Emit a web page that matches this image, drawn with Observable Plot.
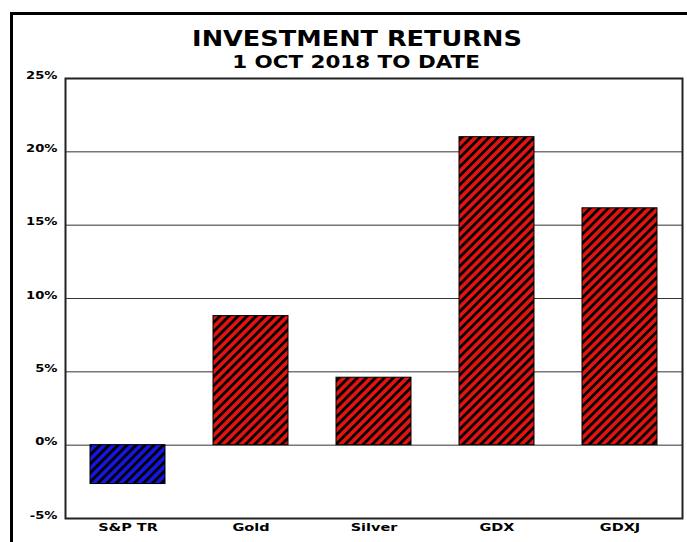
<!DOCTYPE html>
<html>
<head>
<meta charset="utf-8">
<script src="https://cdn.jsdelivr.net/npm/d3@7"></script>
<script src="https://cdn.jsdelivr.net/npm/@observablehq/plot@0.6"></script>
<style>
  html, body { margin: 0; padding: 0; background: #fff; overflow: hidden; }
  #wrap { position: relative; width: 687px; height: 542px; overflow: hidden; background: #fff; }
  #border { position: absolute; left: 10px; top: 12px; width: 677px; height: 530px; border-top: 3px solid #000; border-left: 3px solid #000; box-sizing: border-box; }
  .ttl { position: absolute; white-space: nowrap; line-height: 1; font-family: "DejaVu Sans", "Liberation Sans", Arial, sans-serif; font-weight: bold; color: #000; transform: translateX(-50%) scaleX(1.19); }
  #title { left: 357px; top: 27.8px; font-size: 21.5px; }
  #subtitle { left: 356px; top: 52.8px; font-size: 18px; }
  #chart { position: absolute; left: 0; top: 0; width: 687px; height: 542px; }
  #chart svg { max-width: none !important; }
</style>
</head>
<body>
<div id="wrap">
  <div id="chart"></div>
  <div id="border"></div>
  <div class="ttl" id="title">INVESTMENT RETURNS</div>
  <div class="ttl" id="subtitle">1 OCT 2018 TO DATE</div>
</div>
<script>
const categories = ["S&P TR", "Gold", "Silver", "GDX", "GDXJ"];
const returns = [-2.65, 8.8, 4.6, 21.0, 16.15];
const yTicks = [-5, 0, 5, 10, 15, 20, 25];

const data = categories.map((c, i) => ({cat: c, value: returns[i]}));

const chart = Plot.plot({
  width: 687,
  height: 542,
  marginTop: 78,
  marginLeft: 65,
  marginRight: 5,
  marginBottom: 24,
  x: {domain: categories, paddingInner: 0.39, paddingOuter: 0.195, label: null, tickSize: 0, tickPadding: 12},
  y: {domain: [-5, 25], ticks: yTicks, tickFormat: d => d + "%", label: null, tickSize: 0, tickPadding: 8},
  style: {fontFamily: "DejaVu Sans, Liberation Sans, Arial, sans-serif", fontWeight: "bold", fontSize: "10.5px", color: "#000", background: "transparent", maxWidth: "none"},
  marks: [
    Plot.ruleY(yTicks, {stroke: "#333", strokeWidth: 1}),
    Plot.barY(data.filter(d => d.value < 0), {x: "cat", y: "value", fill: "url(#hatchBlue)", stroke: "#000", strokeWidth: 1}),
    Plot.barY(data.filter(d => d.value >= 0), {x: "cat", y: "value", fill: "url(#hatchRed)", stroke: "#000", strokeWidth: 1}),
    Plot.frame({stroke: "#222", strokeWidth: 2})
  ]
});

const svg = d3.select(chart);
const defs = svg.insert("defs", ":first-child");
function hatch(id, color) {
  const p = defs.append("pattern")
    .attr("id", id)
    .attr("patternUnits", "userSpaceOnUse")
    .attr("width", 6.4).attr("height", 6.4)
    .attr("patternTransform", "rotate(45)");
  p.append("rect").attr("width", 6.4).attr("height", 6.4).attr("fill", color);
  p.append("rect").attr("width", 2.8).attr("height", 6.4).attr("fill", "#000");
}
hatch("hatchRed", "#e3140f");
hatch("hatchBlue", "#1616e0");

function stretch(sel, s) {
  svg.selectAll(sel).each(function() {
    const x = +this.getAttribute("x") || 0, y = +this.getAttribute("y") || 0;
    this.removeAttribute("x"); this.removeAttribute("y");
    const t = this.getAttribute("transform") || "";
    this.setAttribute("transform", `${t} translate(${x},${y}) scale(${s},1)`);
  });
}
stretch('[aria-label="x-axis tick label"] text', 1.38);
stretch('[aria-label="y-axis tick label"] text', 1.25);

document.getElementById("chart").appendChild(chart);
</script>
</body>
</html>
